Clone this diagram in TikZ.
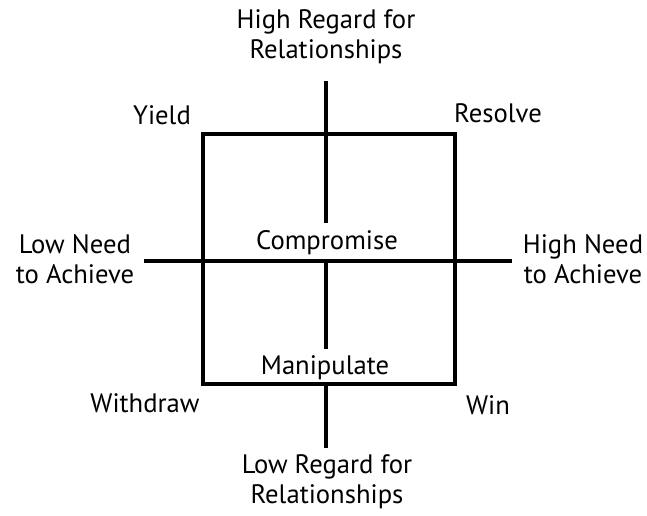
\documentclass[tikz,border=0pt]{standalone}
\usepackage{fontspec}
\setmainfont{PT Sans}
\begin{document}
\begin{tikzpicture}[x=0.75pt,y=-0.75pt,
  lbl/.style={inner sep=0pt,align=center,font=\fontsize{20}{22.5}\selectfont},
  bar/.style={line width=3pt}]
\useasboundingbox (0,0) rectangle (647,515);
\draw[bar] (203,134) rectangle (455,384);
\coordinate (vt1) at (326,81);
\coordinate (vt2) at (326,223);
\coordinate (vm1) at (326,261);
\coordinate (vm2) at (326,349);
\coordinate (vb1) at (326,384);
\coordinate (vb2) at (326,448);
\coordinate (hl) at (144,261);
\coordinate (hr) at (512,261);
\draw[bar] (vt1) -- (vt2);
\draw[bar] (vm1) -- (vm2);
\draw[bar] (vb1) -- (vb2);
\draw[bar] (hl) -- (hr);
\node[lbl] (hrr) at (326,37) {High Regard for\\Relationships};
\node[lbl] (lrr) at (327,482) {Low Regard for\\Relationships};
\node[lbl] (lna) at (75,259) {Low Need\\to Achieve};
\node[lbl] (hna) at (583,259) {High Need\\to Achieve};
\node[lbl] (yield) at (162,115) {Yield};
\node[lbl] (resolve) at (498,113) {Resolve};
\node[lbl] (comp) at (327,243) {Compromise};
\node[lbl] (manip) at (325,368) {Manipulate};
\node[lbl] (withdraw) at (145,403) {Withdraw};
\node[lbl] (win) at (488,405) {Win};
\end{tikzpicture}
\end{document}
